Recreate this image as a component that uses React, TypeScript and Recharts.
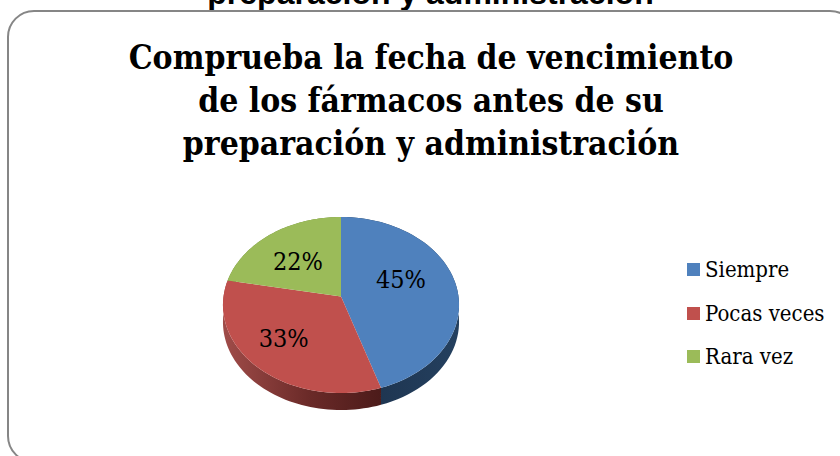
import { Legend, Pie, PieChart } from "recharts"

const labels = ["Siempre", "Pocas veces", "Rara vez"]
const values = [45, 33, 22]
const faceColors = ["#4f81bd", "#c0504d", "#9bbb59"]
const wallFills = ["url(#wallBlue)", "url(#wallRed)", "url(#wallGreen)"]
const titleLines = [
  "Comprueba la fecha de vencimiento",
  "de los fármacos antes de su",
  "preparación y administración",
]
const clippedTitle = "preparación y administración"

// label placement: fraction of the radius along the mid angle, then a nudge
const labelRadius = [0.52, 0.7, 0.6]
const labelNudge = [-10, -6, 4]

const pieData = labels.map((name, i) => ({ name, value: values[i], fill: faceColors[i] }))

const SERIF = "'DejaVu Serif Condensed', 'DejaVu Serif', serif"
const WALL_DEPTH = 17
const TILT_Y = 0.742
const PERSPECTIVE = -0.0966

// circle -> tilted ellipse, the hub ends up above the middle of the ellipse
function project(cx: number, cy: number, r: number, deg: number) {
  const a = (deg * Math.PI) / 180
  const u = r * Math.cos(a)
  const v = -r * Math.sin(a)
  const w = 1 + (PERSPECTIVE * v) / 117.5
  return { x: cx + u / w, y: cy + (TILT_Y * v) / w }
}

function rim(cx: number, cy: number, r: number, start: number, end: number) {
  const steps = 60
  const pts = []
  for (let i = 0; i <= steps; i++) {
    pts.push(project(cx, cy, r, start + ((end - start) * i) / steps))
  }
  return pts
}

const toPath = (pts: { x: number; y: number }[]) =>
  pts.map((p, i) => `${i ? "L" : "M"}${p.x.toFixed(2)},${p.y.toFixed(2)}`).join(" ") + " Z"

const FaceShape = (p: any) => {
  const pts = [{ x: p.cx, y: p.cy }, ...rim(p.cx, p.cy, p.outerRadius, p.startAngle, p.endAngle)]
  return <path d={toPath(pts)} fill={p.fill} stroke="none" />
}

const WallShape = (p: any) => {
  const top = rim(p.cx, p.cy, p.outerRadius, p.startAngle, p.endAngle)
  const low = top.map(q => ({ x: q.x, y: q.y + WALL_DEPTH })).reverse()
  const i = labels.indexOf(p.name)
  return <path d={toPath([...top, ...low])} fill={wallFills[i]} stroke="none" />
}

const renderLabel = (p: any) => {
  const i = p.index
  const pos = project(p.cx, p.cy, p.outerRadius * labelRadius[i], p.midAngle)
  return (
    <text x={pos.x} y={pos.y + labelNudge[i]} textAnchor="middle" dominantBaseline="central"
          fontFamily={SERIF} fontSize={25} fill="#000">
      {`${values[i]}%`}
    </text>
  )
}

const LegendList = ({ payload }: any) => (
  <div style={{ fontFamily: SERIF, fontSize: 22, color: "#000" }}>
    {labels.map((name, i) => {
      const e = (payload || []).find((x: any) => x.value === name)
      return (
        <div key={name} style={{ display: "flex", alignItems: "center", height: 43.5 }}>
          <span style={{ width: 13, height: 13, background: e ? e.color : faceColors[i], marginRight: 5 }} />
          <span style={{ whiteSpace: "nowrap" }}>{name}</span>
        </div>
      )
    })}
  </div>
)

export default function App() {
  return (
    <div style={{ position: "fixed", left: 0, top: 0, width: 840, height: 456, overflow: "hidden", background: "#fff" }}>
      <PieChart width={840} height={456} margin={{ top: 0, right: 0, bottom: 0, left: 0 }}>
        <defs>
          <linearGradient id="wallRed" x1="0" y1="0" x2="1" y2="0">
            <stop offset="0%" stopColor="#a04c49" />
            <stop offset="55%" stopColor="#6a2a28" />
            <stop offset="100%" stopColor="#4c1b1a" />
          </linearGradient>
          <linearGradient id="wallBlue" x1="0" y1="0" x2="1" y2="0">
            <stop offset="0%" stopColor="#1c314b" />
            <stop offset="100%" stopColor="#24405f" />
          </linearGradient>
          <linearGradient id="wallGreen" x1="0" y1="0" x2="1" y2="0">
            <stop offset="0%" stopColor="#6d8a38" />
            <stop offset="100%" stopColor="#6d8a38" />
          </linearGradient>
        </defs>

        <text x={430.5} y={4} textAnchor="middle" fontFamily="'Liberation Sans', Arial, sans-serif"
              fontWeight="bold" fontSize={32} fill="#000">
          {clippedTitle}
        </text>
        <rect x={8} y={11} width={848} height={451} rx={26} ry={26} fill="#fff" stroke="#868686" strokeWidth={2} />

        {titleLines.map((line, i) => (
          <text key={line} x={431} y={69 + i * 43} textAnchor="middle" fontFamily={SERIF}
                fontWeight="bold" fontSize={33.4} fill="#000">
            {line}
          </text>
        ))}

        <Pie data={pieData} dataKey="value" nameKey="name" cx={341} cy={296.5} outerRadius={117.5}
             startAngle={90} endAngle={-270} legendType="none" stroke="none"
             shape={WallShape} inactiveShape={WallShape} isAnimationActive={false} />
        <Pie data={pieData} dataKey="value" nameKey="name" cx={341} cy={296.5} outerRadius={117.5}
             startAngle={90} endAngle={-270} stroke="none" label={renderLabel} labelLine={false}
             shape={FaceShape} inactiveShape={FaceShape} isAnimationActive={false} />

        <Legend layout="vertical" content={<LegendList />}
                wrapperStyle={{ left: 687, top: 248, width: 150, bottom: "auto", right: "auto" }} />
      </PieChart>
    </div>
  )
}
